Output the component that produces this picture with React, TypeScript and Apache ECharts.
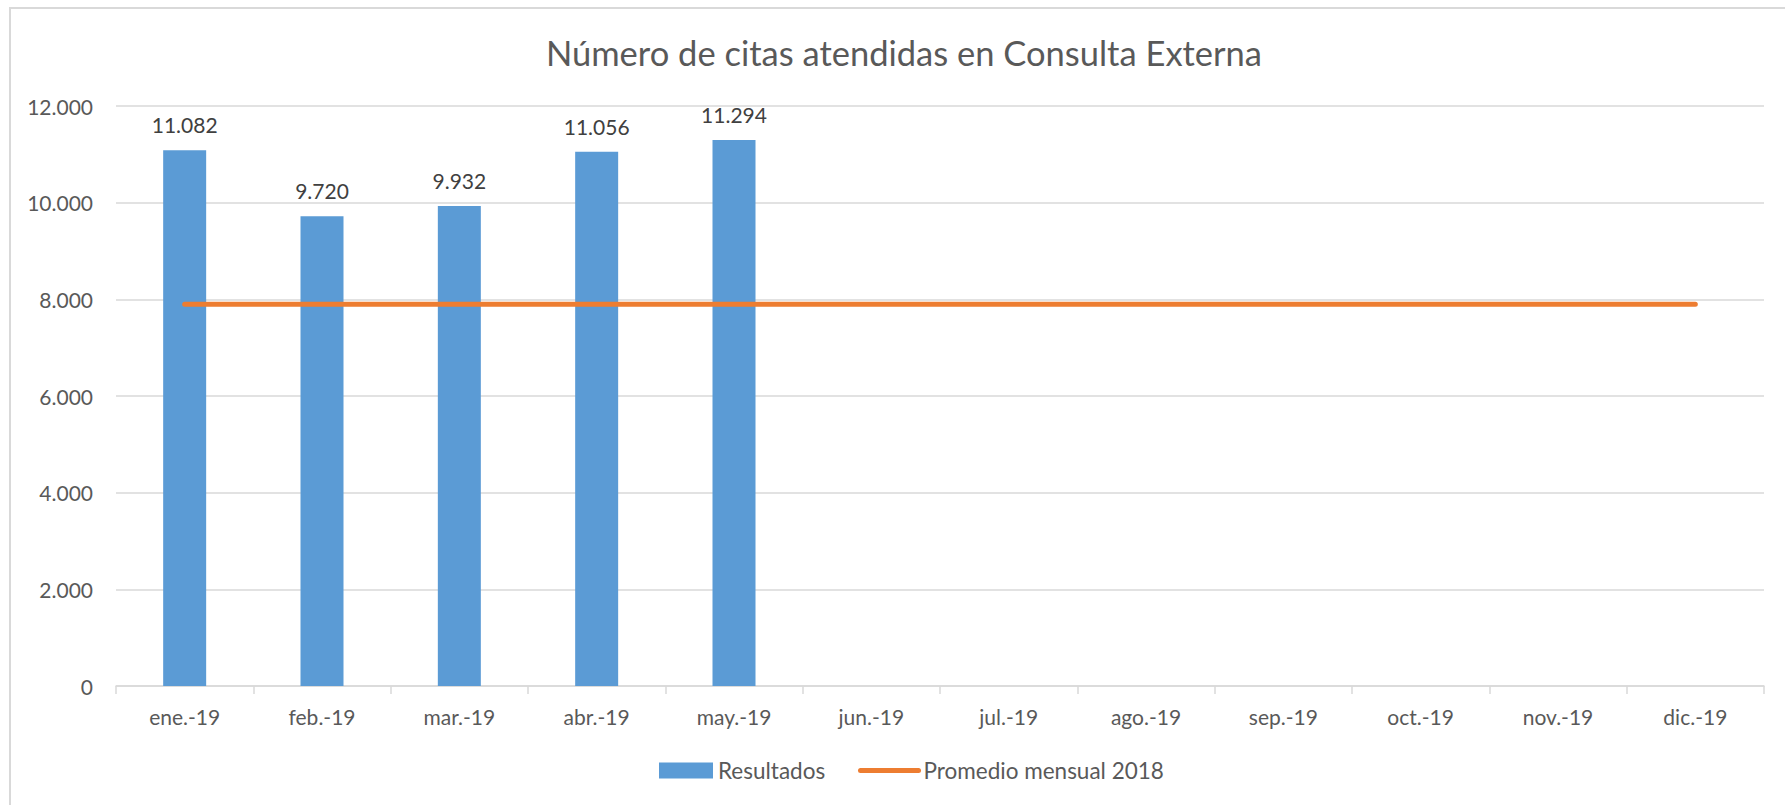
import React, { useEffect, useRef } from "react";
import * as echarts from "echarts";

const categories = ["ene.-19", "feb.-19", "mar.-19", "abr.-19", "may.-19", "jun.-19", "jul.-19", "ago.-19", "sep.-19", "oct.-19", "nov.-19", "dic.-19"];
const resultados = [11082, 9720, 9932, 11056, 11294, null, null, null, null, null, null, null];
const promedio2018 = [7900, 7900, 7900, 7900, 7900, 7900, 7900, 7900, 7900, 7900, 7900, 7900];
const yTicks = { min: 0, max: 12000, interval: 2000 };
const titleText = "Número de citas atendidas en Consulta Externa";
const seriesNames = ["Resultados", "Promedio mensual 2018"];

const FONT = "Lato";
const TXT = "#595959";

const fmt = (v: number) => String(Math.round(v)).replace(/\B(?=(\d{3})+(?!\d))/g, ".");

export default function App() {
  const ref = useRef<HTMLDivElement>(null);
  useEffect(() => {
    if (!ref.current) return;
    const chart = echarts.init(ref.current, undefined, { renderer: "svg" });
    const legendText = { fontFamily: FONT, fontSize: 22.5, color: TXT };
    chart.setOption({
      animation: false,
      backgroundColor: "#fff",
      textStyle: { fontFamily: FONT },
      title: {
        text: titleText,
        left: 899,
        textAlign: "center",
        top: 30,
        textStyle: { fontFamily: FONT, fontSize: 34.5, fontWeight: "normal", color: TXT },
      },
      graphic: [
        {
          type: "rect",
          shape: { x: 10, y: 8, width: 1800, height: 820 },
          style: { fill: "none", stroke: "#D9D9D9", lineWidth: 2 },
          silent: true,
        },
      ],
      legend: [
        {
          left: 654,
          top: 754,
          itemHeight: 16,
          itemWidth: 54,
          textStyle: legendText,
          data: [{ name: seriesNames[0], icon: "rect" }],
        },
        {
          left: 853,
          top: 754,
          itemHeight: 16,
          itemWidth: 58,
          textStyle: legendText,
          lineStyle: { width: 5, cap: "round", color: "#ED7D31" },
          data: [{ name: seriesNames[1], itemStyle: { opacity: 0 }, lineStyle: { width: 5, cap: "round", color: "#ED7D31" } }],
        },
      ],
      grid: { left: 116, right: 21, top: 106, bottom: 119, containLabel: false },
      xAxis: {
        type: "category",
        data: categories,
        axisLine: { lineStyle: { color: "#D9D9D9", width: 1.5 } },
        axisTick: { show: true, length: 8, lineStyle: { color: "#D9D9D9", width: 1.5 } },
        axisLabel: { fontFamily: FONT, fontSize: 21, color: TXT, margin: 20 },
      },
      yAxis: {
        type: "value",
        min: yTicks.min,
        max: yTicks.max,
        interval: yTicks.interval,
        axisLine: { show: false },
        axisTick: { show: false },
        splitLine: { lineStyle: { color: "#D9D9D9", width: 1.5 } },
        axisLabel: { fontFamily: FONT, fontSize: 21, color: TXT, margin: 23, formatter: (v: number) => fmt(v) },
      },
      series: [
        {
          name: seriesNames[0],
          type: "bar",
          data: resultados,
          barWidth: 43,
          itemStyle: { color: "#5B9BD5" },
          label: {
            show: true,
            position: "top",
            distance: 15,
            fontFamily: FONT,
            fontSize: 21,
            color: "#404040",
            formatter: (p: any) => fmt(p.value),
          },
        },
        {
          name: seriesNames[1],
          type: "line",
          data: promedio2018,
          symbol: "none",
          showSymbol: false,
          lineStyle: { color: "#ED7D31", width: 5, cap: "round" },
          itemStyle: { color: "#ED7D31" },
        },
      ],
    });
    return () => chart.dispose();
  }, []);
  return <div ref={ref} style={{ position: "fixed", left: 0, top: 0, width: 1785, height: 805 }} />;
}
